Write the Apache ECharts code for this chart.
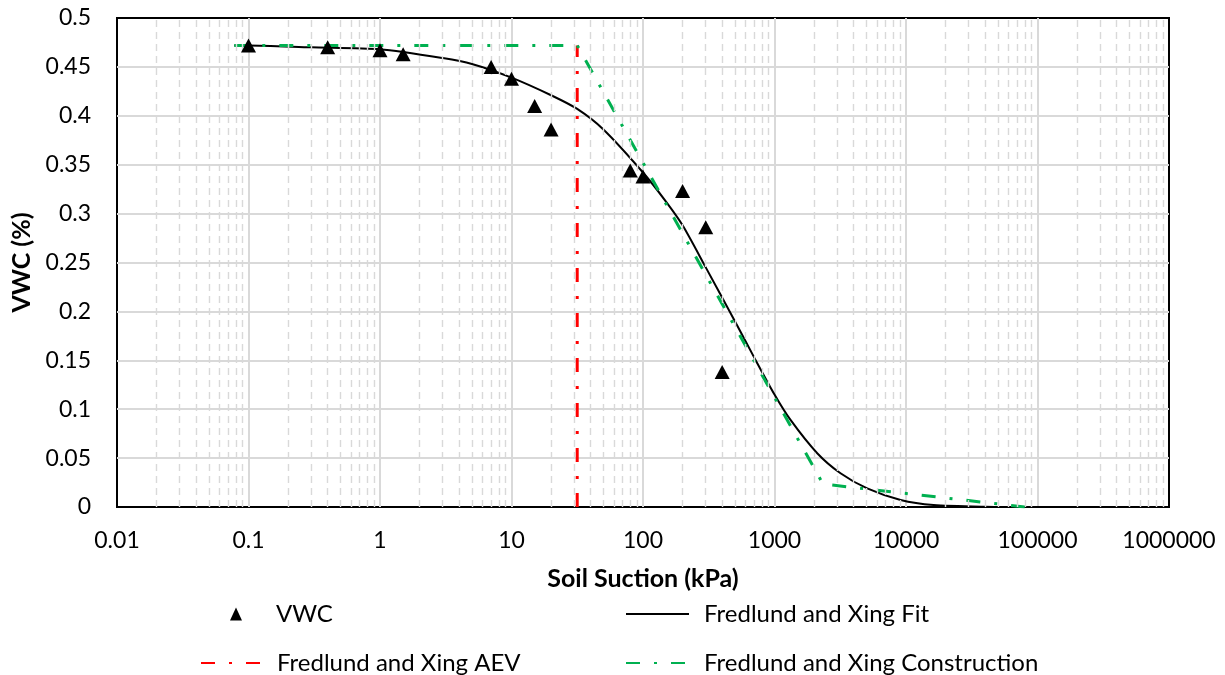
<!DOCTYPE html>
<html>
<head>
<meta charset="utf-8">
<title>Soil Water Characteristic Curve</title>
<script src="https://cdn.jsdelivr.net/npm/echarts@6/dist/echarts.min.js"></script>
<style>
  html, body { margin: 0; padding: 0; background: #ffffff; }
  #chart { width: 1225px; height: 675px; }
</style>
</head>
<body>
<div id="chart"></div>
<script>
// Measured volumetric water content at each applied suction
const vwcSuction = [0.1, 0.4, 1, 1.5, 7, 10, 15, 20, 80, 100, 200, 300, 400];
const vwcValues  = [0.472, 0.470, 0.467, 0.463, 0.450, 0.438, 0.410, 0.386, 0.344, 0.338, 0.323, 0.286, 0.138];

// Fredlund and Xing fitted curve
const fitSuction = [0.078, 0.1, 0.3, 1, 3, 5, 10, 20, 31.6, 50, 100, 150, 200, 300, 500, 700, 1000, 1324, 2113, 3177, 5070, 9100, 16200, 40000, 100000, 300000];
const fitValues  = [0.472, 0.472, 0.470, 0.468, 0.459, 0.453, 0.439, 0.421, 0.407, 0.386, 0.342, 0.312, 0.288, 0.245, 0.190, 0.153, 0.115, 0.089, 0.055, 0.0345, 0.019, 0.0072, 0.002, 0.0003, 0, 0];

// Air-entry value marker
const aevSuction = [31.6, 31.6];
const aevValues  = [0, 0.472];

// Graphical construction (saturated plateau, tangent, residual line)
const conSuction = [0.078, 31.6, 2340, 80000];
const conValues  = [0.472, 0.472, 0.0235, 0];

// Axis settings
const xMin = 0.01, xMax = 1000000;
const yMin = 0, yMax = 0.5, yStep = 0.05;

const seriesNames = ['VWC', 'Fredlund and Xing Fit', 'Fredlund and Xing AEV', 'Fredlund and Xing Construction'];

const pairs = (xs, ys) => xs.map((x, i) => [x, ys[i]]);

// Minor log grid positions: 2..9 within each decade
const minorLines = [];
for (let e = Math.log10(xMin); e < Math.log10(xMax); e++) {
  for (let m = 2; m <= 9; m++) {
    minorLines.push({ xAxis: Number((m * Math.pow(10, e)).toPrecision(4)) });
  }
}

const FONT = 'Lato';
const gridColor = '#d9d9d9';
const dashDot = [14, 14, 3, 14];

const chart = echarts.init(document.getElementById('chart'), null, { renderer: 'canvas' });

const legendText = pad => ({ fontFamily: FONT, fontSize: 24, color: '#000', padding: [0, 0, 0, pad] });
const legendBase = {
  orient: 'horizontal',
  selectedMode: false,
  itemHeight: 14
};
// line legends: show only the stroke sample, no marker
const lineLegend = Object.assign({}, legendBase, { itemStyle: { opacity: 0 } });

chart.setOption({
  animation: false,
  backgroundColor: '#ffffff',
  textStyle: { fontFamily: FONT },
  grid: {
    left: 117, right: 56, top: 18, bottom: 168,
    show: true, borderColor: '#000', borderWidth: 2, backgroundColor: 'transparent'
  },
  xAxis: {
    type: 'log',
    logBase: 10,
    min: xMin,
    max: xMax,
    name: 'Soil Suction (kPa)',
    nameLocation: 'middle',
    nameGap: 59,
    nameTextStyle: { fontFamily: FONT, fontSize: 25, fontWeight: 'bold', color: '#000' },
    axisLine: { show: false },
    axisTick: { show: false },
    axisLabel: {
      fontFamily: FONT, fontSize: 23, color: '#000', margin: 22,
      formatter: v => String(Number(Number(v).toPrecision(6)))
    },
    splitLine: { show: true, showMinLine: false, showMaxLine: false, lineStyle: { color: gridColor, width: 2 } }
  },
  yAxis: {
    type: 'value',
    min: yMin,
    max: yMax,
    interval: yStep,
    name: 'VWC (%)',
    nameLocation: 'middle',
    nameGap: 78,
    nameTextStyle: { fontFamily: FONT, fontSize: 25, fontWeight: 'bold', color: '#000' },
    axisLine: { show: false },
    axisTick: { show: false },
    axisLabel: { fontFamily: FONT, fontSize: 23, color: '#000', margin: 26 },
    splitLine: { show: true, showMinLine: false, showMaxLine: false, lineStyle: { color: gridColor, width: 2 } }
  },
  legend: [
    Object.assign({}, legendBase, { data: [seriesNames[0]], left: 225, top: 597, itemWidth: 12, itemHeight: 13,
      textStyle: legendText(29) }),
    Object.assign({}, lineLegend, { data: [seriesNames[1]], left: 620, top: 597, itemWidth: 63,
      textStyle: legendText(10) }),
    Object.assign({}, lineLegend, { data: [seriesNames[2]], left: 195, top: 646, itemWidth: 62,
      textStyle: legendText(9) }),
    Object.assign({}, lineLegend, { data: [seriesNames[3]], left: 620, top: 646, itemWidth: 63,
      textStyle: legendText(10) })
  ],
  series: [
    {
      // carrier for the dashed minor gridlines
      type: 'line',
      z: 1,
      data: [[1, 0]],
      symbol: 'none',
      lineStyle: { opacity: 0 },
      silent: true,
      markLine: {
        silent: true,
        symbol: 'none',
        label: { show: false },
        lineStyle: { color: gridColor, type: [7, 5], width: 1.4 },
        emphasis: { disabled: true },
        data: minorLines
      }
    },
    {
      name: seriesNames[1],
      type: 'line',
      z: 3,
      data: pairs(fitSuction, fitValues),
      symbol: 'none',
      smooth: 0.25,
      lineStyle: { color: '#000', width: 2 },
      itemStyle: { color: '#000' }
    },
    {
      name: seriesNames[2],
      type: 'line',
      z: 4,
      data: pairs(aevSuction, aevValues),
      symbol: 'none',
      lineStyle: { color: '#ff0000', width: 3, type: dashDot },
      itemStyle: { color: '#ff0000' }
    },
    {
      name: seriesNames[3],
      type: 'line',
      z: 4,
      data: pairs(conSuction, conValues),
      symbol: 'none',
      lineStyle: { color: '#00b050', width: 3, type: dashDot },
      itemStyle: { color: '#00b050' }
    },
    {
      name: seriesNames[0],
      type: 'scatter',
      z: 6,
      data: pairs(vwcSuction, vwcValues),
      symbol: 'triangle',
      symbolSize: [15, 14],
      itemStyle: { color: '#000', opacity: 1 }
    }
  ]
});
</script>
</body>
</html>
